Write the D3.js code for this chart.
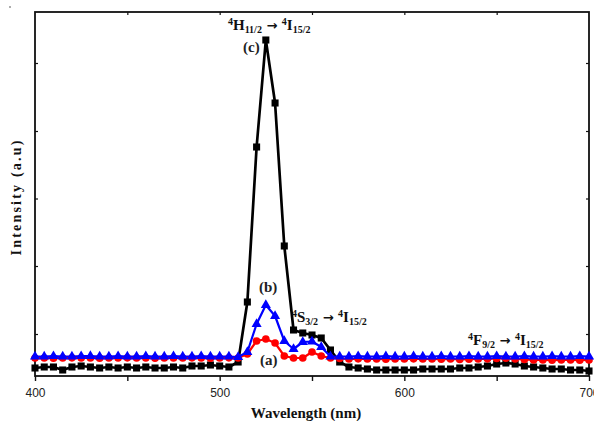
<!DOCTYPE html>
<html>
<head>
<meta charset="utf-8">
<script src="https://cdn.jsdelivr.net/npm/d3@7"></script>
<style>
  body { margin: 0; background: #fff; }
  svg { display: block; }
  .tick-label { font-family: "Liberation Sans", Arial, sans-serif; font-size: 12px; }
  .serif { font-family: "Liberation Serif", "Times New Roman", serif; font-weight: bold; }
</style>
</head>
<body>
<svg id="chart" width="594" height="421"></svg>
<script>
// Wavelength grid (nm)
const wavelengths = [
  400, 405, 410, 415, 420, 425, 430, 435, 440, 445, 450, 455, 460, 465, 470, 475, 480, 485, 490, 495, 500, 505,
  510, 515, 520, 525, 530, 535, 540, 545, 550, 555, 560, 565, 570, 575, 580, 585, 590, 595, 600, 605,
  610, 615, 620, 625, 630, 635, 640, 645, 650, 655, 660, 665, 670, 675, 680, 685, 690, 695, 700
];

// (a) red circles
const sampleA = [
  180, 180, 178, 180, 182, 180, 180, 178, 180, 180, 182, 180, 180, 178, 180, 180, 180, 182, 180, 178, 180, 182,
  180, 220, 350, 370, 330, 200, 180, 180, 240, 200, 180, 175, 170, 172, 170, 170, 168, 170, 170, 172,
  170, 170, 168, 170, 165, 168, 170, 172, 175, 178, 170, 165, 160, 160, 158, 160, 160, 158, 160
];

// (b) blue triangles
const sampleB = [
  195, 195, 198, 195, 195, 198, 200, 195, 195, 198, 195, 195, 198, 195, 195, 198, 195, 195, 198, 195, 195, 195,
  190, 240, 520, 710, 600, 350, 270, 340, 345, 290, 195, 195, 195, 198, 195, 195, 198, 195, 195, 198,
  195, 195, 198, 195, 195, 198, 195, 195, 198, 195, 195, 198, 195, 195, 198, 195, 195, 198, 195
];

// (c) black squares
const sampleC = [
  80, 90, 90, 60, 90, 100, 90, 80, 90, 80, 90, 80, 90, 80, 80, 90, 80, 100, 100, 110, 100, 90,
  140, 740, 2290, 3360, 2730, 1300, 460, 430, 410, 380, 260, 140, 90, 80, 70, 60, 60, 60, 60, 60,
  70, 70, 70, 70, 80, 80, 90, 100, 120, 130, 120, 100, 90, 80, 70, 70, 60, 60, 50
];

// Axis ticks
const xTicks = [400, 450, 500, 550, 600, 650, 700];
const xTickLabels = [400, 500, 600, 700];
const yTicks = [420, 1100, 1775, 2450, 3130];

const svg = d3.select("#chart");
const margin = { left: 35, top: 12, right: 5, bottom: 45 };
const width = 594 - margin.left - margin.right;
const height = 421 - margin.top - margin.bottom;

const x = d3.scaleLinear().domain([400, 700]).range([margin.left, margin.left + width]);
const y = d3.scaleLinear().domain([0, 3640]).range([margin.top + height, margin.top]);

// stray speck in the top-left corner of the scan
svg.append("circle").attr("cx", 10).attr("cy", 7).attr("r", 0.8).attr("fill", "#444");

const plot = svg.append("g");

// Frame
plot.append("rect")
  .attr("x", x(400)).attr("y", y(3640))
  .attr("width", x(700) - x(400)).attr("height", y(0) - y(3640))
  .attr("fill", "none").attr("stroke", "#111").attr("stroke-width", 1.8);

// Bottom axis: ticks outward with labels
const bottomAxis = d3.axisBottom(x).tickValues(xTicks).tickSize(5)
  .tickFormat(d => xTickLabels.includes(d) ? d : "");
const gb = svg.append("g").attr("transform", `translate(0,${y(0)})`).call(bottomAxis);
gb.select(".domain").remove();
gb.selectAll("line").attr("stroke", "#111").attr("stroke-width", 1.4);
gb.selectAll("text").attr("class", "tick-label").attr("fill", "#222").attr("dy", "1.1em");

// Top axis: short inward ticks
const topAxis = d3.axisBottom(x).tickValues(xTicks.slice(1, -1)).tickSize(3).tickFormat("");
const gt = svg.append("g").attr("transform", `translate(0,${y(3640)})`).call(topAxis);
gt.select(".domain").remove();
gt.selectAll("line").attr("stroke", "#111").attr("stroke-width", 1.2);

// Left and right axes: inward ticks, no labels
const leftAxis = d3.axisRight(y).tickValues(yTicks).tickSize(3).tickFormat("");
const gl = svg.append("g").attr("transform", `translate(${x(400)},0)`).call(leftAxis);
gl.select(".domain").remove();
gl.selectAll("line").attr("stroke", "#111").attr("stroke-width", 1.2);

const rightAxis = d3.axisLeft(y).tickValues(yTicks).tickSize(3).tickFormat("");
const gr = svg.append("g").attr("transform", `translate(${x(700)},0)`).call(rightAxis);
gr.select(".domain").remove();
gr.selectAll("line").attr("stroke", "#111").attr("stroke-width", 1.2);

// Series
const series = [
  { values: sampleC, color: "#000000", width: 2.7, marker: "square" },
  { values: sampleA, color: "#ff0000", width: 2.2, marker: "circle" },
  { values: sampleB, color: "#0000ff", width: 2.2, marker: "triangle" }
];

const line = d3.line().x(d => x(d[0])).y(d => y(d[1]));

series.forEach(s => {
  const pts = wavelengths.map((w, i) => [w, s.values[i]]);
  plot.append("path")
    .datum(pts)
    .attr("d", line)
    .attr("fill", "none")
    .attr("stroke", s.color)
    .attr("stroke-width", s.width)
    .attr("stroke-linejoin", "round");

  const sym = s.marker === "square" ? d3.symbolSquare : s.marker === "circle" ? d3.symbolCircle : d3.symbolTriangle;
  const size = s.marker === "square" ? 50 : s.marker === "circle" ? 46 : 44;
  plot.selectAll(null)
    .data(pts)
    .enter()
    .append("path")
    .attr("d", d3.symbol().type(sym).size(size))
    .attr("transform", d => `translate(${x(d[0])},${y(d[1])})`)
    .attr("fill", s.color);
});

// Transition labels with super/subscripts
function addLevel(px, py, parts) {
  const t = svg.append("text").attr("class", "serif").attr("x", px).attr("y", py)
    .attr("font-size", 15).attr("fill", "#111");
  let shift = 0;
  parts.forEach(([txt, kind]) => {
    let target = 0, fs = 15;
    if (kind === "sup") { target = -5; fs = 10; }
    if (kind === "sub") { target = 3; fs = 10; }
    const ts = t.append("tspan").attr("dy", target - shift).attr("font-size", fs).text(txt);
    if (kind === "arrow") {
      ts.attr("font-family", "DejaVu Sans").attr("font-size", 13);
    }
    shift = target;
  });
}

const arrow = [" \u2192 ", "arrow"];
addLevel(228, 30, [["4", "sup"], ["H", ""], ["11/2", "sub"], arrow, ["4", "sup"], ["I", ""], ["15/2", "sub"]]);
addLevel(292, 322, [["4", "sup"], ["S", ""], ["3/2", "sub"], arrow, ["4", "sup"], ["I", ""], ["15/2", "sub"]]);
addLevel(468, 345, [["4", "sup"], ["F", ""], ["9/2", "sub"], arrow, ["4", "sup"], ["I", ""], ["15/2", "sub"]]);

// Sample tags
const tags = [["(c)", 243, 52], ["(b)", 259, 292], ["(a)", 260, 365]];
tags.forEach(([txt, px, py]) => {
  svg.append("text").attr("class", "serif").attr("x", px).attr("y", py)
    .attr("font-size", 15).attr("fill", "#222").text(txt);
});

// Axis titles
svg.append("text").attr("class", "serif")
  .attr("x", 306).attr("y", 418)
  .attr("text-anchor", "middle").attr("font-size", 15).attr("fill", "#111")
  .text("Wavelength (nm)");

svg.append("text").attr("class", "serif")
  .attr("transform", `translate(21,${(y(0) + y(3640)) / 2 + 3}) rotate(-90)`)
  .attr("text-anchor", "middle").attr("font-size", 14).attr("letter-spacing", 2.2).attr("fill", "#111")
  .text("Intensity (a.u)");
</script>
</body>
</html>
